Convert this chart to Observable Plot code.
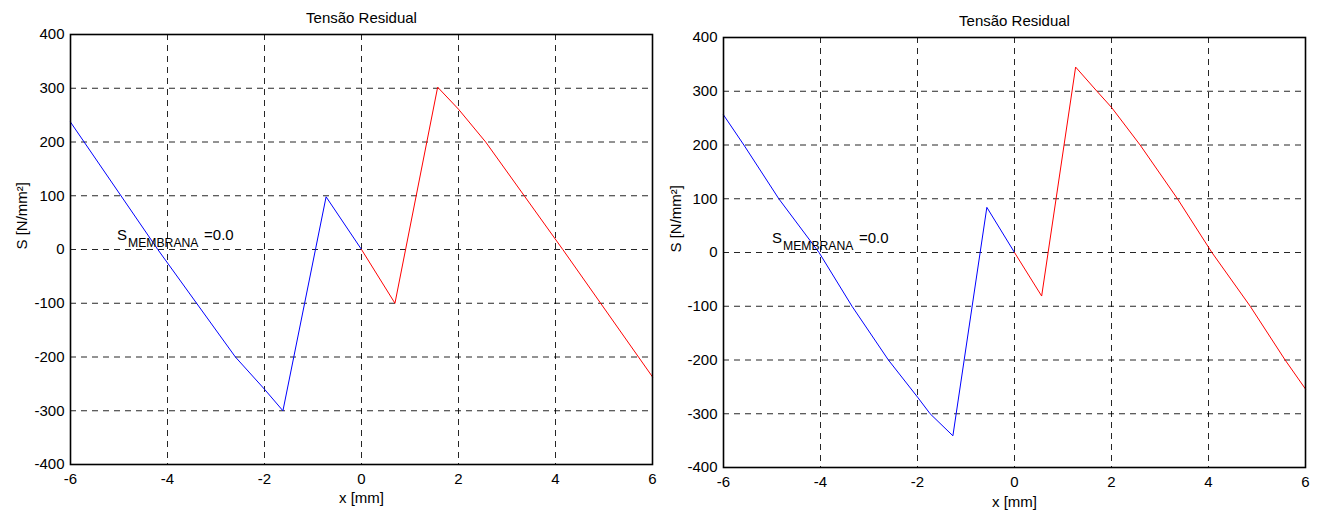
<!DOCTYPE html>
<html><head><meta charset="utf-8">
<script src="https://cdn.jsdelivr.net/npm/d3@7"></script>
<script src="https://cdn.jsdelivr.net/npm/@observablehq/plot@0.6"></script>
<style>
body{margin:0;background:#fff;width:1321px;height:510px;overflow:hidden}
#wrap{display:flex;flex-direction:row}
svg{display:block}
</style></head><body><div id="wrap"></div>
<script>
// ---- text ----
const titleText = "Tensão Residual";
const xLabel = "x [mm]";
const yLabel = "S [N/mm²]";
const annotMain = "S";
const annotSub = "MEMBRANA";
const annotValue = "=0.0";

// ---- ticks ----
const xTicks = [-6, -4, -2, 0, 2, 4, 6];
const yTicks = [-400, -300, -200, -100, 0, 100, 200, 300, 400];

// ---- left panel data ----
const leftBlueX = [-6, -4.2, -2.6, -2.0, -1.62, -0.73, 0];
const leftBlueS = [237, 0, -200, -260, -300, 98, 0];
const leftRedX = [0, 0.69, 1.57, 2.0, 2.56, 4.15, 6];
const leftRedS = [0, -100, 302, 261, 200, 0, -237];
const leftAnnot = {x: -5.04, s: 18};

// ---- right panel data ----
const rightBlueX = [-6, -5.58, -4.86, -4.03, -3.35, -2.6, -2.0, -1.74, -1.27, -0.57, 0];
const rightBlueS = [256, 200, 100, 0, -100, -200, -269, -300, -341, 84, 0];
const rightRedX = [0, 0.56, 1.26, 1.7, 2.0, 2.59, 3.36, 4.07, 4.86, 5.58, 6];
const rightRedS = [0, -81, 345, 300, 270, 200, 100, 0, -100, -200, -254];
const rightAnnot = {x: -5.0, s: 18.6};

const toRows = (xs, ss) => xs.map((x, i) => ({x, s: ss[i]}));
const font = "'Liberation Sans', Arial, Helvetica, sans-serif";

function panel(o) {
  const blue = toRows(o.blueX, o.blueS);
  const red = toRows(o.redX, o.redS);
  const gx = xTicks.slice(1, -1), gy = yTicks.slice(1, -1);
  return Plot.plot({
    width: o.width, height: 510,
    marginLeft: o.ml, marginRight: o.mr, marginTop: o.mt, marginBottom: o.mb,
    style: {fontFamily: font, fontSize: "15px", background: "#fff", color: "#000", overflow: "visible"},
    x: {domain: [-6, 6], ticks: xTicks, tickFormat: d => String(d), label: null},
    y: {domain: [-400, 400], ticks: yTicks, tickFormat: d => String(d), label: null},
    marks: [
      Plot.gridX(gx, {stroke: "#000", strokeOpacity: 0.85, strokeDasharray: "6,5", strokeWidth: 1}),
      Plot.gridY(gy, {stroke: "#000", strokeOpacity: 0.85, strokeDasharray: "6,5", strokeWidth: 1}),
      Plot.axisX({ticks: xTicks, tickFormat: d => String(d), tickSize: 0, tickPadding: 9, fontSize: 15, label: null}),
      Plot.axisY({ticks: yTicks, tickFormat: d => String(d), tickSize: 0, tickPadding: 6, fontSize: 15, label: null}),
      Plot.line(blue, {x: "x", y: "s", stroke: "#0000ff", strokeWidth: 1}),
      Plot.line(red, {x: "x", y: "s", stroke: "#ff0000", strokeWidth: 1}),
      Plot.frame({stroke: "#000", strokeWidth: 1.6}),
      // title
      Plot.text([titleText], {text: d => d, frameAnchor: "top", dy: -12, lineAnchor: "bottom", fontSize: 15, fill: "#000"}),
      // x label
      Plot.text([xLabel], {text: d => d, frameAnchor: "bottom", dy: o.xlDy, lineAnchor: "bottom", fontSize: 15, fill: "#000"}),
      // y label
      Plot.text([yLabel], {text: d => d, frameAnchor: "left", dx: o.ylDx, rotate: -90, lineAnchor: "middle", fontSize: 15, fill: "#000"}),
      // annotation S_MEMBRANA =0.0
      Plot.text([o.annot], {x: "x", y: "s", text: () => annotMain, textAnchor: "start", lineAnchor: "bottom", fontSize: 15, fill: "#000"}),
      Plot.text([o.annot], {x: "x", y: "s", text: () => annotSub, textAnchor: "start", lineAnchor: "bottom", fontSize: 12.2, dx: 11, dy: 7, fill: "#000"}),
      Plot.text([o.annot], {x: "x", y: "s", text: () => annotValue, textAnchor: "start", lineAnchor: "bottom", fontSize: 15, dx: 87, fill: "#000"})
    ]
  });
}

const wrap = document.getElementById("wrap");
wrap.appendChild(panel({
  width: 660, ml: 70, mr: 8, mt: 34, mb: 46, xlDy: 38, ylDx: -48,
  blueX: leftBlueX, blueS: leftBlueS, redX: leftRedX, redS: leftRedS, annot: leftAnnot
}));
wrap.appendChild(panel({
  width: 661, ml: 63, mr: 16, mt: 37, mb: 43, xlDy: 39, ylDx: -47,
  blueX: rightBlueX, blueS: rightBlueS, redX: rightRedX, redS: rightRedS, annot: rightAnnot
}));
</script>
</body></html>
